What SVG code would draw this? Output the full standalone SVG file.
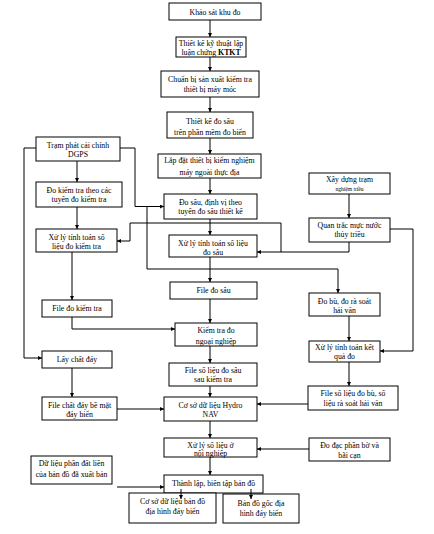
<svg xmlns="http://www.w3.org/2000/svg" width="434" height="534" viewBox="0 0 434 534">
<defs>
<marker id="ah" viewBox="0 0 6 6" refX="6" refY="3" markerWidth="4" markerHeight="4" orient="auto" markerUnits="userSpaceOnUse"><path d="M0,0 L6,3 L0,6 z" fill="#000"/></marker>
<style>
.b{fill:#fff;stroke:#000;stroke-width:1}
text{font-family:"Liberation Serif","Times New Roman",serif;font-size:7.8px;fill:#000;text-anchor:middle}
.s{font-size:5.5px}
.c path{fill:none;stroke:#000;stroke-width:1}
.c path.a{marker-end:url(#ah)}
</style>
</defs>
<rect width="434" height="534" fill="#fff"/>
<g class="c">
<path class="a" d="M210,20V37"/>
<path class="a" d="M210,57V71"/>
<path class="a" d="M210,97V112"/>
<path class="a" d="M210,138V154"/>
<path class="a" d="M210,178V194"/>
<path class="a" d="M36,148H24V358H42"/>
<path class="a" d="M120,148H135V206.5H164"/>
<path class="a" d="M147,206.5V269H338V293"/>
<path class="a" d="M77,161V182"/>
<path class="a" d="M77,207V229"/>
<path class="a" d="M72,252V300"/>
<path class="a" d="M72,317V329H175"/>
<path class="a" d="M72,368V397"/>
<path class="a" d="M117,409H164"/>
<path class="a" d="M117,487H164"/>
<path class="a" d="M210,219V235"/>
<path class="a" d="M210,257V282"/>
<path class="a" d="M210,299V323"/>
<path class="a" d="M210,346V363"/>
<path class="a" d="M210,386V397"/>
<path class="a" d="M210,421V438"/>
<path class="a" d="M210,457V475"/>
<path class="a" d="M349,194V218"/>
<path class="a" d="M390,229H413V351H380"/>
<path class="a" d="M349,242V252H257"/>
<path class="a" d="M281,252V223H130V241H117"/>
<path class="a" d="M349,316V341"/>
<path class="a" d="M349,362V386"/>
<path class="a" d="M308,404H257"/>
<path class="a" d="M309,449H257"/>
</g>
<g id="n1"><rect class="b" x="169" y="3" width="92" height="17"/><text x="215" y="14.5">Khảo sát khu đo</text></g>
<g id="n2"><rect class="b" x="176" y="37" width="70" height="20"/><text x="211" y="45.5">Thiết kế kỹ thuật lập</text><text x="211" y="55">luận chứng <tspan font-weight="bold">KTKT</tspan></text></g>
<g id="n3"><rect class="b" x="161" y="71" width="98" height="26"/><text x="210" y="81.5">Chuẩn bị sản xuất kiểm tra</text><text x="210" y="91.5">thiết bị  máy móc</text></g>
<g id="n4"><rect class="b" x="167" y="112" width="86" height="26"/><text x="210" y="123.5">Thiết kế đo sâu</text><text x="210" y="135">trên phần mềm đo biển</text></g>
<g id="n5"><rect class="b" x="158" y="154" width="103" height="24"/><text x="209.5" y="163">Lắp đặt thiết bị kiểm nghiệm</text><text x="209.5" y="174.5">máy ngoài thực địa</text></g>
<g id="n6"><rect class="b" x="36" y="137" width="84" height="24"/><text x="78" y="147.5">Trạm phát cải chính</text><text x="78" y="157">DGPS</text></g>
<g id="n7"><rect class="b" x="36" y="182" width="86" height="25"/><text x="79" y="192.5">Đo kiểm tra theo các</text><text x="79" y="201.5">tuyến đo  kiểm tra</text></g>
<g id="n8"><rect class="b" x="36" y="229" width="81" height="23"/><text x="76.5" y="239.5">Xử lý tính toán số</text><text x="76.5" y="249">liệu đo kiểm tra</text></g>
<g id="n9"><rect class="b" x="42" y="300" width="70" height="17"/><text x="77" y="311">File đo kiểm tra</text></g>
<g id="n10"><rect class="b" x="42" y="351" width="70" height="17"/><text x="77" y="362">Lấy chất đáy</text></g>
<g id="n11"><rect class="b" x="42" y="397" width="75" height="23"/><text x="79.5" y="407.5">File chất đáy bề mặt</text><text x="79.5" y="416.5">đáy biển</text></g>
<g id="n12"><rect class="b" x="31" y="456" width="81" height="28"/><text x="71.5" y="466">Dữ liệu phần đất liền</text><text x="71.5" y="477">của bản đồ đã xuất bản</text></g>
<g id="n13"><rect class="b" x="164" y="194" width="93" height="25"/><text x="210.5" y="204.5">Đo sâu, định vị theo</text><text x="210.5" y="214">tuyến đo sâu  thiết kế</text></g>
<g id="n14"><rect class="b" x="169" y="235" width="88" height="22"/><text x="213" y="245.5">Xử lý tính toán số liệu</text><text x="213" y="255">đo sâu</text></g>
<g id="n15"><rect class="b" x="170" y="282" width="87" height="17"/><text x="213.5" y="293">File đo sâu</text></g>
<g id="n16"><rect class="b" x="175" y="323" width="82" height="23"/><text x="216" y="333">Kiểm tra đo</text><text x="216" y="343.5">ngoại nghiệp</text></g>
<g id="n17"><rect class="b" x="169" y="363" width="88" height="23"/><text x="213" y="372.5">File số liệu đo sâu</text><text x="213" y="382">sau kiểm tra</text></g>
<g id="n18"><rect class="b" x="164" y="397" width="93" height="24"/><text x="210.5" y="407.5">Cơ sở dữ liệu Hydro</text><text x="210.5" y="417">NAV</text></g>
<g id="n19"><rect class="b" x="164" y="438" width="93" height="19"/><text x="210.5" y="448">Xử lý số liệu ở</text><text x="210.5" y="456">nội nghiệp</text></g>
<g id="n20"><rect class="b" x="164" y="475" width="99" height="18"/><text x="213.5" y="486">Thành lập, biên tập bản đồ</text></g>
<g id="n21"><rect class="b" x="129" y="493" width="87" height="30"/><text x="172.5" y="504">Cơ sở dữ liệu bản đồ</text><text x="172.5" y="514">địa hình đáy biển</text></g>
<g id="n22"><rect class="b" x="223" y="494" width="76" height="29"/><text x="261" y="506">Bản đồ gốc địa</text><text x="261" y="516">hình đáy biển</text></g>
<g id="n23"><rect class="b" x="309" y="173" width="81" height="21"/><text x="349.5" y="182">Xây dựng trạm</text><text class="s" x="349.5" y="191">nghiệm triều</text></g>
<g id="n24"><rect class="b" x="309" y="218" width="81" height="24"/><text x="349.5" y="227.5">Quan trắc mực nước</text><text x="349.5" y="237">thủy triều</text></g>
<g id="n25"><rect class="b" x="309" y="293" width="71" height="23"/><text x="344.5" y="303.5">Đo bù, đo rà soát</text><text x="344.5" y="313">hải văn</text></g>
<g id="n26"><rect class="b" x="309" y="341" width="71" height="21"/><text x="344.5" y="350">Xử lý tính toán kết</text><text x="344.5" y="359">quả đo</text></g>
<g id="n27"><rect class="b" x="308" y="386" width="90" height="24"/><text x="353" y="396">File số liệu đo bù, số</text><text x="353" y="405.5">liệu rà soát hải văn</text></g>
<g id="n28"><rect class="b" x="309" y="438" width="81" height="23"/><text x="349.5" y="448">Đo đạc phần bờ và</text><text x="349.5" y="457.5">bãi cạn</text></g>
<g class="c">
<path class="a" d="M181,489V499"/>
<path class="a" d="M251,489V499"/>
</g>
</svg>
